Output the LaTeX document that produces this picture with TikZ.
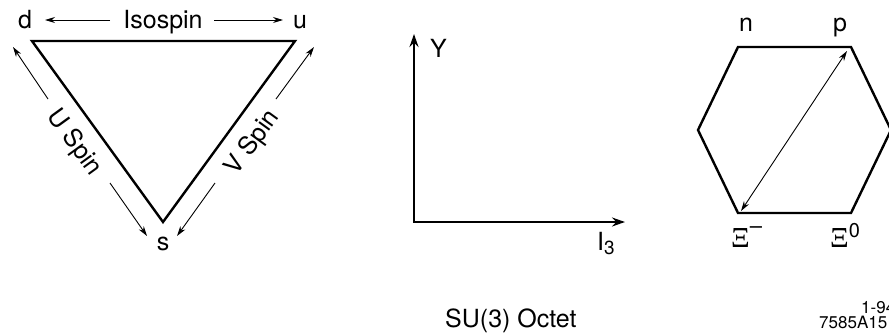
\documentclass[tikz,border=0pt]{standalone}
\usepackage{fontspec}
\setmainfont{TeX Gyre Heros}
\newfontfamily\xifont{Liberation Serif}
\usetikzlibrary{arrows.meta}
\begin{document}
\begin{tikzpicture}[x=1pt,y=-1pt,
  thickline/.style={line width=2.4pt, line join=miter},
  thinarrow/.style={line width=0.9pt,-{Stealth[length=10pt,width=6pt]}},
  thinboth/.style={line width=0.9pt,{Stealth[length=10pt,width=6pt]}-{Stealth[length=10pt,width=6pt]}},
  axisarrow/.style={line width=2.4pt,line join=miter,{Stealth[length=13pt,width=9pt]}-{Stealth[length=13pt,width=9pt]}},
  lbl/.style={font=\fontsize{25}{30}\selectfont, inner sep=0pt, anchor=base},
  lblw/.style={font=\fontsize{25}{30}\selectfont, inner sep=0pt, anchor=base west},
  small/.style={font=\fontsize{17}{20}\selectfont, inner sep=0pt, anchor=base west}]
\useasboundingbox (0,0) rectangle (889,335);
% ---------- triangle ----------
\coordinate (D) at (32,41);
\coordinate (U) at (295,41);
\coordinate (S) at (163,222);
\draw[thickline] (D) -- (U) -- (S) -- cycle;
\node[lbl] (dl) at (25,28) {d};
\node[lbl] (ul) at (300,28) {u};
\node[lbl] (iso) at (163,28) {Isospin};
\node[lbl] (sl) at (163,250) {s};
\coordinate (isoL0) at (110,20); \coordinate (isoL1) at (45,20);
\coordinate (isoR0) at (214,20); \coordinate (isoR1) at (283,20);
\draw[thinarrow] (isoL0) -- (isoL1);
\draw[thinarrow] (isoR0) -- (isoR1);
\node[font=\fontsize{25}{30}\selectfont, inner sep=0pt, rotate=-54] (uspin) at (74,143) {U Spin};
\node[font=\fontsize{25}{30}\selectfont, inner sep=0pt, rotate=54] (vspin) at (253,143) {V Spin};
\coordinate (ua0) at (48,99);   \coordinate (ua1) at (13,47);
\coordinate (ub0) at (110,183); \coordinate (ub1) at (147,236);
\coordinate (va0) at (276,99);  \coordinate (va1) at (314,47);
\coordinate (vb0) at (215,183); \coordinate (vb1) at (177,236);
\draw[thinarrow] (ua0) -- (ua1);
\draw[thinarrow] (ub0) -- (ub1);
\draw[thinarrow] (va0) -- (va1);
\draw[thinarrow] (vb0) -- (vb1);
% ---------- axes ----------
\coordinate (O) at (414,222);
\coordinate (Yt) at (414,34);
\coordinate (Xt) at (625,222);
\draw[axisarrow] (Yt) -- (O) -- (Xt);
\node[lblw] (ylab) at (430,57) {Y};
\node[lblw] (i3lab) at (597,250) {I\raisebox{-4pt}{\fontsize{19}{19}\selectfont 3}};
% ---------- hexagon ----------
\coordinate (h1) at (738,47);
\coordinate (h2) at (851,47);
\coordinate (h3) at (891,130);
\coordinate (h4) at (851,213);
\coordinate (h5) at (738,213);
\coordinate (h6) at (698,130);
\draw[thickline] (h1) -- (h2) -- (h3) -- (h4) -- (h5) -- (h6) -- cycle;
\coordinate (pa) at (847,51);
\coordinate (xa) at (741,211);
\draw[thinboth] (xa) -- (pa);
\node[lbl] (nlab) at (746,31) {n};
\node[lbl] (plab) at (840,31) {p};
\node[lblw] (ximinus) at (731,247) {{\xifont\fontsize{29}{30}\selectfont Ξ}\raisebox{14pt}{\fontsize{22}{22}\selectfont –}};
\node[lblw] (xizero) at (830,247) {{\xifont\fontsize{29}{30}\selectfont Ξ}\raisebox{10pt}{\fontsize{20}{20}\selectfont 0}};
% ---------- captions ----------
\node[lblw] (cap) at (445,327) {SU(3) Octet};
\node[small] (code1) at (861,313) {1-94};
\node[small] (code2) at (819,328) {7585A15};
\end{tikzpicture}
\end{document}
